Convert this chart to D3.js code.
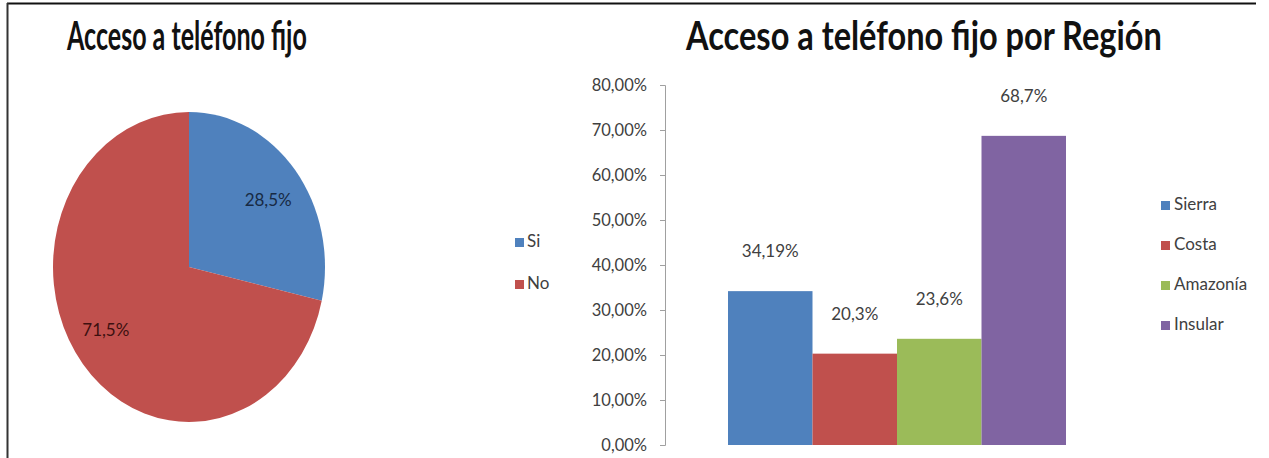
<!DOCTYPE html>
<html>
<head>
<meta charset="utf-8">
<script src="https://cdn.jsdelivr.net/npm/d3@7"></script>
<style>
  html, body { margin: 0; padding: 0; background: #fff; }
  svg { display: block; }
  text { font-family: Lato, "Open Sans", sans-serif; }
</style>
</head>
<body>
<svg id="chart" width="1269" height="458"></svg>
<script>
// Telephone access, overall
const pieLabels = ["Si", "No"];
const pieValues = [28.5, 71.5];
const pieColors = ["#4F81BD", "#C0504D"];
const pieTextColors = ["#172a44", "#3d1010"];

// Telephone access by region
const regions = ["Sierra", "Costa", "Amazonía", "Insular"];
const regionValues = [34.19, 20.3, 23.6, 68.7];
const regionLabels = ["34,19%", "20,3%", "23,6%", "68,7%"];
const regionColors = ["#4F81BD", "#C0504D", "#9BBB59", "#8064A2"];
const yTicks = [0, 10, 20, 30, 40, 50, 60, 70, 80];

const svg = d3.select("#chart");

// frame lines
svg.append("line").attr("x1", 7).attr("x2", 1256).attr("y1", 3.5).attr("y2", 3.5)
  .attr("stroke", "#111").attr("stroke-width", 2);
svg.append("line").attr("x1", 7.5).attr("x2", 7.5).attr("y1", 3).attr("y2", 458)
  .attr("stroke", "#333").attr("stroke-width", 2);

// titles: bold condensed, squeezed horizontally to the given width
function title(text, x, width) {
  const t = svg.append("text").attr("x", 0).attr("y", 0)
    .attr("font-size", 40).attr("font-weight", 700).attr("fill", "#111")
    .text(text);
  const w = t.node().getComputedTextLength();
  t.attr("transform", `translate(${x},50) scale(${width / w},1)`);
}
title("Acceso a teléfono fijo", 67, 240);
title("Acceso a teléfono fijo por Región", 686, 476);

// ---- pie ----
const cx = 189, cy = 267, rx = 136, ry = 155;
const pie = d3.pie().sort(null).value(d => d)(pieValues);
const arc = d3.arc().innerRadius(0).outerRadius(rx);
const pg = svg.append("g").attr("transform", `translate(${cx},${cy}) scale(1,${ry / rx})`);
pg.selectAll("path").data(pie).join("path")
  .attr("d", arc).attr("fill", (d, i) => pieColors[i]);

const labelArc = d3.arc().innerRadius(104).outerRadius(104);
pie.forEach((d, i) => {
  const [lx, ly] = labelArc.centroid(d);
  svg.append("text")
    .attr("x", cx + lx - 2).attr("y", cy + ly)
    .attr("text-anchor", "middle").attr("dominant-baseline", "middle")
    .attr("font-size", 17).attr("fill", pieTextColors[i])
    .text(d3.format(".1f")(pieValues[i]).replace(".", ",") + "%");
});

// pie legend
const pieLegend = svg.append("g");
pieLabels.forEach((lab, i) => {
  const y = 243 + i * 42;
  pieLegend.append("rect").attr("x", 515).attr("y", y - 5).attr("width", 9).attr("height", 9)
    .attr("fill", pieColors[i]);
  pieLegend.append("text").attr("x", 527).attr("y", y).attr("dominant-baseline", "middle")
    .attr("font-size", 17).attr("fill", "#404040").text(lab);
});

// ---- bars ----
const y = d3.scaleLinear().domain([0, 80]).range([445, 85]);
const x = d3.scaleBand().domain(regions).range([728, 1066]).padding(0);

const axis = d3.axisLeft(y).tickValues(yTicks).tickSize(5).tickPadding(13)
  .tickFormat(d => d3.format(".2f")(d).replace(".", ",") + "%");
const ag = svg.append("g").attr("transform", "translate(665,0)").call(axis);
ag.select(".domain").attr("stroke", "#a0a0a0").attr("d", "M-5,85.5H0.5V445.5H-5");
ag.selectAll(".tick line").attr("stroke", "#a0a0a0");
ag.selectAll(".tick text").attr("font-size", 16.5).attr("fill", "#404040")
  .attr("font-family", "Lato, 'Open Sans', sans-serif");

svg.append("g").selectAll("rect").data(regionValues).join("rect")
  .attr("x", (d, i) => x(regions[i]))
  .attr("width", x.bandwidth())
  .attr("y", d => y(d))
  .attr("height", d => y(0) - y(d))
  .attr("fill", (d, i) => regionColors[i]);

svg.append("g").selectAll("text").data(regionValues).join("text")
  .attr("x", (d, i) => x(regions[i]) + x.bandwidth() / 2)
  .attr("y", d => y(d) - 38)
  .attr("text-anchor", "middle").attr("dominant-baseline", "middle")
  .attr("font-size", 17).attr("fill", "#404040")
  .text((d, i) => regionLabels[i]);

// bar legend
const barLegend = svg.append("g");
regions.forEach((r, i) => {
  const ly = 206 + i * 40;
  barLegend.append("rect").attr("x", 1161).attr("y", ly - 5).attr("width", 9).attr("height", 9)
    .attr("fill", regionColors[i]);
  barLegend.append("text").attr("x", 1174).attr("y", ly).attr("dominant-baseline", "middle")
    .attr("font-size", 17).attr("fill", "#404040").text(r);
});
</script>
</body>
</html>
